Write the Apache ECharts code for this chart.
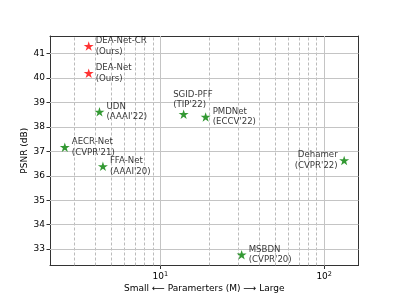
<!DOCTYPE html>
<html>
<head>
<meta charset="utf-8">
<script src="https://cdn.jsdelivr.net/npm/echarts@6/dist/echarts.min.js"></script>
<style>html,body{margin:0;padding:0;background:#fff}#c{width:399px;height:299px}</style>
</head>
<body>
<div id="c"></div>
<script>
// ---- data ----
const oursNames = ['DEA-Net-CR', 'DEA-Net'];
const oursVenues = ['(Ours)', '(Ours)'];
const oursParams = [3.653, 3.653];
const oursPsnr = [41.31, 40.20];

const otherNames = ['UDN', 'AECR-Net', 'FFA-Net', 'SGID-PFF', 'PMDNet', 'Dehamer', 'MSBDN'];
const otherVenues = ["(AAAI'22)", "(CVPR'21)", "(AAAI'20)", "(TIP'22)", "(ECCV'22)", "(CVPR'22)", "(CVPR'20)"];
const otherParams = [4.25, 2.61, 4.46, 13.87, 18.90, 132.45, 31.35];
const otherPsnr = [38.62, 37.17, 36.39, 38.52, 38.41, 36.63, 32.77];

const minorTicks = [3, 4, 5, 6, 7, 8, 9, 20, 30, 40, 50, 60, 70, 80, 90];
const xMajorTicks = [10, 100];
const yTicks = [33, 34, 35, 36, 37, 38, 39, 40, 41];

// ---- label placement (style) ----
const labelPlace = {
  'SGID-PFF': {position: [-5.5, 1], align: 'left', verticalAlign: 'bottom'},
  'Dehamer': {position: 'left', distance: 1.5}
};

const star = 'path://M0,-100 L22.45,-30.9 L95.1,-30.9 L36.3,11.8 L58.8,80.9 L0,38.2 L-58.8,80.9 L-36.3,11.8 L-95.1,-30.9 L-22.45,-30.9 Z';
const font = 'DejaVu Sans';

function items(names, venues, params, psnr) {
  return names.map((n, i) => {
    const lp = labelPlace[n] || {position: 'right', distance: 2};
    return {
      name: n,
      value: [params[i], psnr[i]],
      label: Object.assign({
        show: true,
        formatter: n + '\n' + venues[i],
        fontFamily: font, fontSize: 8.6, lineHeight: 10.5, color: '#000'
      }, lp)
    };
  });
}

const chart = echarts.init(document.getElementById('c'), null, {renderer: 'canvas'});
const xMin = 2.12, xMax = 162, yMin = 32.33, yMax = 41.72;
const minorTickLen = 0.085; // in y units, ~2px
chart.setOption({
  animation: false,
  grid: {left: 50, right: 40.5, top: 36, bottom: 33.5},
  xAxis: [{
    type: 'log', logBase: 10, min: xMin, max: xMax,
    name: 'Small \u27F5 Paramerters (M) \u27F6 Large',
    nameLocation: 'middle', nameGap: 18.5, nameMoveOverlap: false,
    nameTextStyle: {fontFamily: font, fontSize: 9, color: '#000'},
    axisLine: {show: true, lineStyle: {color: '#333', width: 1}},
    axisTick: {show: true, length: 3.5, lineStyle: {color: '#333'}},
    axisLabel: {
      show: true, margin: 5, showMinLabel: false, showMaxLabel: false,
      formatter: v => {
        const e = Math.log10(v);
        if (Math.abs(e - Math.round(e)) > 1e-6) return '';
        return '{b|10}{s|' + Math.round(e) + '}';
      },
      rich: {
        b: {fontFamily: font, fontSize: 9, color: '#000'},
        s: {fontFamily: font, fontSize: 6.5, color: '#000', verticalAlign: 'top', padding: [0, 0, 5, 0]}
      }
    },
    splitLine: {show: false},
    minorSplitLine: {show: false}
  }, {
    type: 'log', logBase: 10, min: xMin, max: xMax, position: 'top',
    axisLine: {show: true, onZero: false, lineStyle: {color: '#333', width: 1}},
    axisTick: {show: false}, axisLabel: {show: false}, splitLine: {show: false}
  }],
  yAxis: [{
    type: 'value', min: yMin, max: yMax, interval: 1,
    name: 'PSNR (dB)', nameLocation: 'middle', nameGap: 20.5, nameMoveOverlap: false,
    nameTextStyle: {fontFamily: font, fontSize: 9, color: '#000'},
    axisLine: {show: true, lineStyle: {color: '#333', width: 1}},
    axisTick: {show: true, length: 3.5, lineStyle: {color: '#333'}, customValues: yTicks},
    axisLabel: {fontFamily: font, fontSize: 9, color: '#000', margin: 5, customValues: yTicks},
    splitLine: {show: false}
  }, {
    type: 'value', min: yMin, max: yMax, position: 'right',
    axisLine: {show: true, lineStyle: {color: '#333', width: 1}},
    axisTick: {show: false}, axisLabel: {show: false}, splitLine: {show: false}
  }],
  series: [{
    type: 'scatter', name: 'grid', data: [], silent: true,
    markLine: {
      silent: true, symbol: 'none', animation: false, label: {show: false},
      lineStyle: {type: [3, 2], color: '#aaaaaa', width: 0.8},
      data: minorTicks.map(v => ({xAxis: v}))
    }
  }, {
    type: 'scatter', name: 'minorTicks', data: [], silent: true,
    markLine: {
      silent: true, symbol: 'none', animation: false, label: {show: false},
      lineStyle: {type: 'solid', color: '#333', width: 0.7},
      data: minorTicks.map(v => [{xAxis: v, yAxis: yMin}, {xAxis: v, yAxis: yMin - minorTickLen}])
    }
  }, {
    type: 'scatter', name: 'gridMajor', data: [], silent: true,
    markLine: {
      silent: true, symbol: 'none', animation: false, label: {show: false},
      lineStyle: {type: 'solid', color: '#c4c4c4', width: 1},
      data: xMajorTicks.map(v => ({xAxis: v})).concat(yTicks.map(v => ({yAxis: v})))
    }
  }, {
    type: 'scatter', name: 'others', symbol: star, symbolSize: 10, symbolKeepAspect: true,
    itemStyle: {color: '#008000'},
    data: items(otherNames, otherVenues, otherParams, otherPsnr), z: 5
  }, {
    type: 'scatter', name: 'ours', symbol: star, symbolSize: 10, symbolKeepAspect: true,
    itemStyle: {color: '#ff0000'},
    data: items(oursNames, oursVenues, oursParams, oursPsnr), z: 5
  }]
});
</script>
</body>
</html>
